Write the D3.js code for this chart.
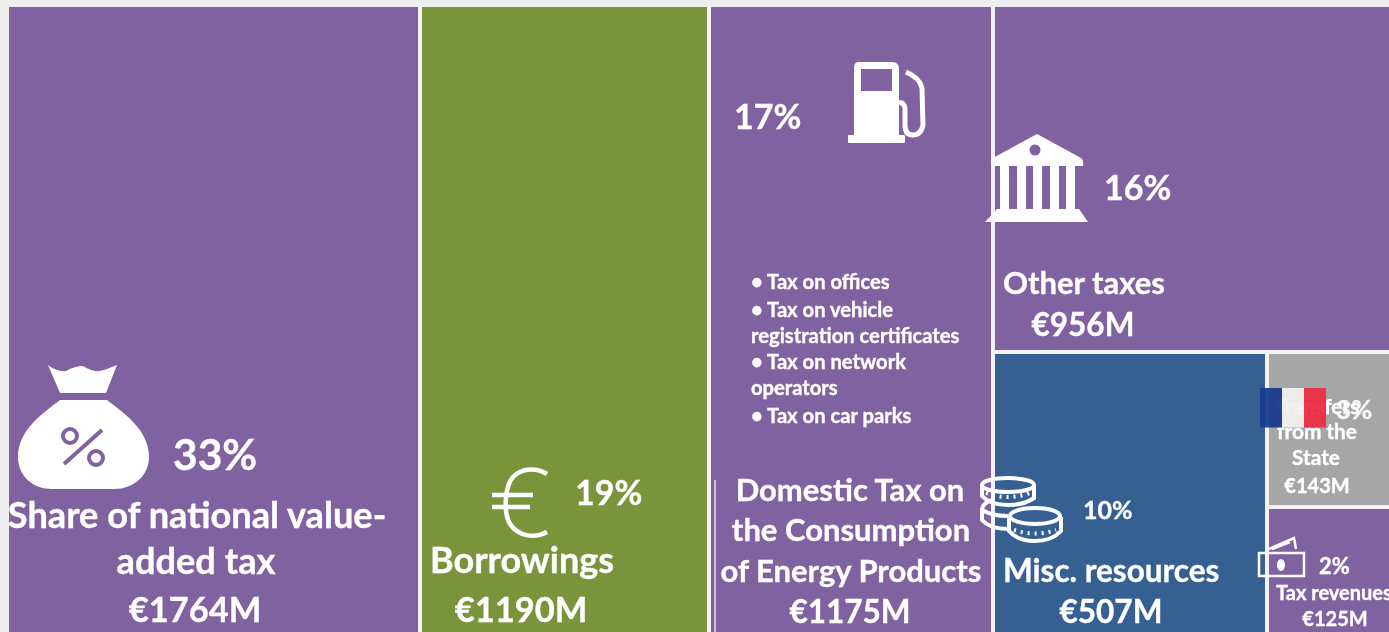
<!DOCTYPE html>
<html><head><meta charset="utf-8">
<script src="https://cdn.jsdelivr.net/npm/d3@7/dist/d3.min.js"></script>
<style>html,body{margin:0;padding:0;background:#eeeeee;overflow:hidden;width:1389px;height:632px}svg{display:block;filter:blur(.45px)}text{font-family:Lato,"Open Sans",sans-serif;font-weight:700;fill:#fff;stroke:#fff;stroke-width:.35px}</style>
</head><body><svg id="c" width="1400" height="650"></svg>
<script>
const categories = ["Share of national value-added tax","Borrowings","Domestic Tax on the Consumption of Energy Products","Other taxes","Misc. resources","Transfers from the State","Tax revenues"];
const values = [1764,1190,1175,956,507,143,125];
const percents = [33,19,17,16,10,3,2];
const colours = ["#8062a0","#7a943c","#8062a0","#8062a0","#366092","#a6a6a6","#8062a0"];
const bullets = ["• Tax on offices","• Tax on vehicle","registration certificates","•  Tax on network","operators","• Tax on car parks"];

const svg = d3.select("#c");
// column, row scales: the reference's treemap is clipped at the right and the bottom
const xCols = d3.scaleLinear().domain([0,1764,2954,4129,5860]).range([7,420,709,993,1416]);
const yRight = d3.scaleLinear().domain([0,1731-775,1731]).range([5,352,660]);
const xLow = d3.scaleLinear().domain([0,507,775]).range([993,1267,1416]);
const yLow = d3.scaleLinear().domain([0,143,268]).range([352,507,660]);
const cum = d3.cumsum(values);
const cells = values.map((v,i)=>{
  if(i<3) return {x0:xCols(i?cum[i-1]:0),x1:xCols(cum[i]),y0:5,y1:660};
  if(i===3) return {x0:xCols(cum[2]),x1:xCols(cum[6]),y0:yRight(0),y1:yRight(956)};
  if(i===4) return {x0:xLow(0),x1:xLow(507),y0:yRight(956),y1:yRight(1731)};
  if(i===5) return {x0:xLow(507),x1:xLow(775),y0:yLow(0),y1:yLow(143)};
  return {x0:xLow(507),x1:xLow(775),y0:yLow(143),y1:yLow(268)};
});
svg.selectAll("rect.cell").data(cells).join("rect").attr("class","cell")
  .attr("x",d=>d.x0).attr("y",d=>d.y0).attr("width",d=>d.x1-d.x0).attr("height",d=>d.y1-d.y0)
  .attr("fill",(d,i)=>colours[i]).attr("stroke","#f4f2f6").attr("stroke-width",4);
// page colour around the left and top of the treemap
svg.append("rect").attr("x",0).attr("y",0).attr("width",9).attr("height",650).attr("fill","#eeeeee");
svg.append("rect").attr("x",0).attr("y",0).attr("width",1400).attr("height",7).attr("fill","#eeeeee");
// faint rule in the energy cell
svg.append("rect").attr("x",714).attr("y",480).attr("width",2).attr("height",170).attr("fill","#fff").attr("opacity",.6);

const money = v => "€"+v+"M";
const pct = p => p+"%";
const txt = (s,x,y,size,anchor) => svg.append("text").attr("x",x).attr("y",y).attr("font-size",size).attr("text-anchor",anchor||"middle").text(s);

// cell 0
txt(pct(percents[0]),173,470,42.5,"start");
txt("Share of national value-",197,528,36.2);
txt("added tax",196,574,36.2);
txt(money(values[0]),195,622,34.5);
// cell 1
txt(pct(percents[1]),575,505,34,"start");
txt(categories[1],430,573,36,"start");
txt(money(values[1]),521,622,34.5);
// cell 2
txt(pct(percents[2]),734,129,34,"start");
bullets.forEach((b,i)=>txt(b,751,[289,317,343,369,395,423][i],20.2,"start"));
txt("Domestic Tax on",850,501,31);
txt("the Consumption",851,541,31);
txt("of Energy Products",851,582,31);
txt(money(values[2]),850,623,31.5);
// cell 3
txt(pct(percents[3]),1104,200,34,"start");
txt(categories[3],1003,294,31,"start");
txt(money(values[3]),1083,336,31.5);
// cell 4
txt(pct(percents[4]),1083,519,25,"start");
txt(categories[4],1003,582,31.5,"start");
txt(money(values[4]),1111,623,31.5);
// cell 5
txt("Transfers",1317,414,20.8);
txt("from the",1317,439,20.8);
txt("State",1316,465,20.8);
txt(money(values[5]),1317,493,20);
// cell 6
txt(pct(percents[6]),1319,574,22,"start");
txt(categories[6],1276,600,20,"start");
txt(money(values[6]),1335,626,20);

// flag
const flag = svg.append("g").attr("opacity",.94);
[["#1a3a8c",1260],["#f2f2f2",1282],["#ee2e42",1304]].forEach(([c,x])=>flag.append("rect").attr("x",x).attr("y",388).attr("width",22).attr("height",39.5).attr("fill",c));
txt(pct(percents[5]),1336,419,26,"start").attr("opacity",.9);

// money bag icon
const bag = svg.append("g").attr("fill","#fff");
bag.append("path").attr("d","M48 365 Q57 372 66 371 Q75 366 83 366 Q92 372 100 371 Q108 369 117 365 L106 393 L60 393 Z");
bag.append("path").attr("d","M60 400 L107 400 C125 414 149 430 149 457 C149 476 133 489 114 489 L52 489 C33 489 18 476 18 457 C18 430 42 414 60 400 Z");
const pc = svg.append("g").attr("stroke","#8062a0").attr("fill","none").attr("stroke-width",4);
pc.append("circle").attr("cx",70).attr("cy",436).attr("r",7);
pc.append("circle").attr("cx",96).attr("cy",458).attr("r",7);
pc.append("line").attr("x1",64).attr("y1",464).attr("x2",102).attr("y2",430);

// euro icon
const eu = svg.append("g").attr("fill","none").attr("stroke","#fff").attr("stroke-width",4.5);
eu.append("path").attr("d","M547 474 C536 467 522 468 513 477 C505 486 503 512 510 524 C518 536 534 539 547 532");
eu.append("path").attr("d","M492 495 L533 495 M492 507 L530 507");

// fuel pump icon
const fu = svg.append("g").attr("fill","#fff");
fu.append("path").attr("fill-rule","evenodd").attr("d","M858 62 L892 62 Q899 62 899 69 L899 136 L854 136 L854 69 Q854 62 858 62 Z M861 69 L861 91 L892 91 L892 69 Z");
fu.append("rect").attr("x",848).attr("y",135).attr("width",57).attr("height",8).attr("rx",1);
fu.append("path").attr("fill","none").attr("stroke","#fff").attr("stroke-width",5).attr("d","M906 72 Q920 78 922 88 L923 125 Q921 135 913 135 Q905 135 905 125 L905 108 Q904 102 899 103");

// bank icon
const bk = svg.append("g").attr("fill","#fff");
bk.append("path").attr("d","M1037 134 L1081 158 Q1084 160 1083 166 L992 166 Q989 160 993 158 Z");
bk.append("circle").attr("cx",1035).attr("cy",150).attr("r",5.5).attr("fill","#8062a0");
[1000,1017,1033,1050,1066].forEach(x=>bk.append("rect").attr("x",x).attr("y",166).attr("width",9).attr("height",44));
bk.append("path").attr("d","M997 209 L1079 209 L1088 222 L985 222 Z");

// coins icon
const co = svg.append("g").attr("fill","none").attr("stroke","#fff").attr("stroke-width",4);
co.append("path").attr("d","M982 485 a26 7 0 0 1 52 0 a26 7 0 0 1 -52 0 M982 485 L982 496 Q990 505 1008 505 Q1024 505 1034 498 L1034 486");
co.append("path").attr("d","M982 508 L982 520 Q990 529 1008 529 M982 508 Q985 502 992 500 M982 510 Q992 516 1008 516");
co.append("path").attr("d","M1010 516 a25 8 0 0 1 50 0 a25 8 0 0 1 -50 0 M1009 517 L1009 531 Q1018 541 1035 541 Q1052 541 1061 531 L1061 517");
co.append("path").attr("stroke-dasharray","2 5").attr("d","M1014 530 Q1035 537 1056 530 M986 493 Q1008 501 1030 493");

// banknote icon
const no = svg.append("g").attr("fill","none").attr("stroke","#fff").attr("stroke-width",2.5);
no.append("rect").attr("x",1259).attr("y",553).attr("width",45).attr("height",23);
no.append("path").attr("d","M1269 549 L1294 538 L1296 549 M1272 549 L1290 542");
svg.append("ellipse").attr("cx",1281).attr("cy",565).attr("rx",4).attr("ry",6).attr("fill","#fff");
</script></body></html>
